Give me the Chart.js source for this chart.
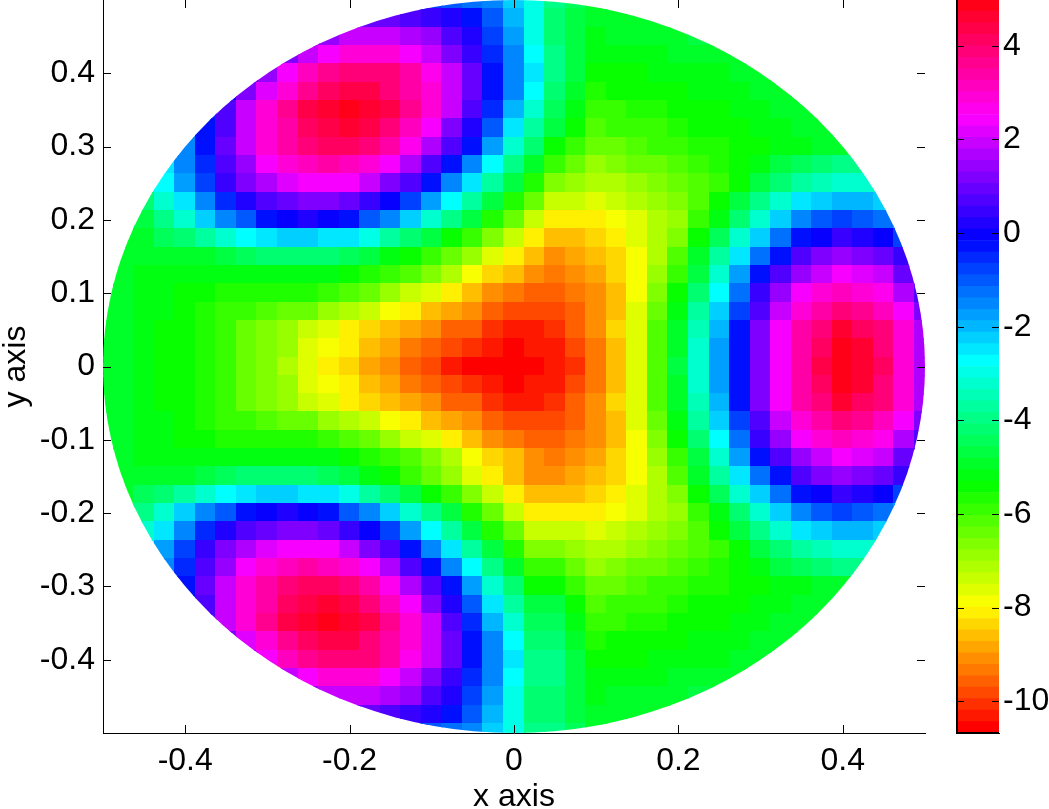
<!DOCTYPE html>
<html>
<head>
<meta charset="utf-8">
<script src="https://cdn.jsdelivr.net/npm/chart.js@4"></script>
<style>
body { margin: 0; background: #fff; overflow: hidden; }
canvas { position: absolute; top: 0; }
</style>
</head>
<body>
<canvas id="field" width="1049" height="809" style="left:0"></canvas>
<canvas id="bar" width="109" height="809" style="left:940px"></canvas>
<script>
var _ = null;
var xTicks = [-0.4, -0.2, 0, 0.2, 0.4];
var yTicks = [-0.4, -0.3, -0.2, -0.1, 0, 0.1, 0.2, 0.3, 0.4];
var colorTicks = [-10, -8, -6, -4, -2, 0, 2, 4];
var colorMin = -10.68;
var colorMax = 4.98;

var xValues = [-0.5, -0.475, -0.45, -0.425, -0.4, -0.375, -0.35, -0.325, -0.3, -0.275, -0.25, -0.225, -0.2, -0.175, -0.15, -0.125, -0.1, -0.075, -0.05, -0.025, 0, 0.025, 0.05, 0.075, 0.1, 0.125, 0.15, 0.175, 0.2, 0.225, 0.25, 0.275, 0.3, 0.325, 0.35, 0.375, 0.4, 0.425, 0.45, 0.475, 0.5];
var yValues = [0.5, 0.475, 0.45, 0.425, 0.4, 0.375, 0.35, 0.325, 0.3, 0.275, 0.25, 0.225, 0.2, 0.175, 0.15, 0.125, 0.1, 0.075, 0.05, 0.025, 0, -0.025, -0.05, -0.075, -0.1, -0.125, -0.15, -0.175, -0.2, -0.225, -0.25, -0.275, -0.3, -0.325, -0.35, -0.375, -0.4, -0.425, -0.45, -0.475, -0.5];

// one row per y value, top to bottom
var fieldValues = [
[_,_,_,_,_,_,_,_,_,_,_,_,_,_,_,-.6,-.8,-.9,-1.2,-1.6,-2.2,-3,-3.9,-4.5,-4.9,-4.9,_,_,_,_,_,_,_,_,_,_,_,_,_,_,_],
[_,_,_,_,_,_,_,_,_,_,_,.9,1.1,1,1,.8,.5,.1,-.4,-1.1,-2,-3,-4.1,-4.6,-5,-5,-5,-4.9,-4.9,-4.8,_,_,_,_,_,_,_,_,_,_,_],
[_,_,_,_,_,_,_,_,_,.4,.9,1.4,1.8,1.9,2,1.7,1.4,.8,.1,-.8,-1.8,-3,-4.2,-4.7,-5.1,-5,-5,-5,-4.9,-4.8,-4.8,_,_,_,_,_,_,_,_,_,_],
[_,_,_,_,_,_,_,_,.6,1.3,2,2.5,2.8,2.9,2.9,2.5,2,1.3,.5,-.5,-1.6,-2.8,-4,-4.7,-5.2,-5.2,-5.1,-5.1,-5,-5,-4.9,-4.9,-4.8,-4.8,_,_,_,_,_,_,_],
[_,_,_,_,_,_,-.8,.3,1.4,2.3,3.1,3.6,3.9,3.9,3.8,3.3,2.7,1.9,1,-.2,-1.4,-2.6,-3.9,-4.7,-5.4,-5.3,-5.3,-5.2,-5.2,-5.1,-5.1,-5,-4.9,-4.9,-4.9,_,_,_,_,_,_],
[_,_,_,_,_,-.7,0,1.1,2.1,3,3.7,4.2,4.4,4.3,4,3.4,2.8,1.9,.9,-.3,-1.6,-2.8,-4.1,-4.9,-5.6,-5.5,-5.5,-5.4,-5.3,-5.2,-5.2,-5.1,-5,-4.9,-4.9,-4.9,_,_,_,_,_],
[_,_,_,_,-1.9,-.6,.7,1.8,2.8,3.6,4.3,4.7,4.95,4.7,4.3,3.6,2.8,1.8,.8,-.5,-1.9,-3.1,-4.4,-5.2,-5.9,-5.8,-5.7,-5.6,-5.5,-5.4,-5.3,-5.2,-5.1,-5,-4.9,-4.9,-4.8,_,_,_,_],
[_,_,_,-2,-1.6,-.4,.8,1.9,2.9,3.5,4.2,4.4,4.6,4.3,3.9,3.1,2.3,1.3,.2,-1.1,-2.5,-3.6,-4.8,-5.5,-6.2,-6,-6,-5.8,-5.7,-5.5,-5.4,-5.3,-5.2,-5.1,-5,-4.9,-4.8,-4.8,_,_,_],
[_,_,_,-2.2,-1.4,-.2,1,2,2.9,3.5,4,4.1,4.2,3.8,3.4,2.6,1.7,.7,-.4,-1.8,-3.1,-4.2,-5.3,-5.9,-6.5,-6.3,-6.2,-6,-5.9,-5.7,-5.6,-5.5,-5.4,-5.2,-5.1,-5,-4.9,-4.8,-4.7,_,_],
[_,_,-3,-2.4,-1.6,-.5,.7,1.5,2.3,2.8,3.2,3.3,3.2,2.8,2.3,1.6,.7,-.3,-1.5,-2.7,-3.9,-5,-6,-6.4,-6.9,-6.7,-6.5,-6.3,-6.1,-5.9,-5.7,-5.4,-5.1,-4.7,-4.4,-4.2,-4,-4,-4.1,_,_],
[_,_,-3.5,-2.7,-1.8,-.7,.4,1.1,1.7,2.2,2.5,2.4,2.3,1.8,1.3,.6,-.2,-1.4,-2.6,-3.7,-4.7,-5.7,-6.6,-6.9,-7.2,-7.1,-6.9,-6.7,-6.4,-6.2,-5.95,-5.4,-4.8,-4.2,-3.7,-3.4,-3.2,-3.3,-3.5,_,_],
[_,_,-4.1,-3.3,-2.4,-1.5,-.5,.1,.7,1,1.3,1.2,1,.5,-.1,-.8,-1.7,-2.7,-3.7,-4.6,-5.6,-6.5,-7.3,-7.4,-7.6,-7.4,-7.2,-7,-6.6,-6.1,-5.5,-4.7,-4,-3.2,-2.6,-2.2,-2,-2.1,-2.3,-2.9,_],
[_,-5,-4.8,-4,-3.1,-2.3,-1.5,-.9,-.3,-.1,.1,-.1,-.3,-.9,-1.5,-2.3,-3.2,-4,-4.8,-5.6,-6.5,-7.3,-8,-8,-8,-7.8,-7.5,-7.2,-6.9,-6,-5.1,-4.1,-3.1,-2.3,-1.5,-1.1,-.7,-.9,-1.2,-1.8,_],
[-4.9,-5,-4.9,-4.5,-4.2,-3.7,-3.2,-2.8,-2.5,-2.3,-2.2,-2.4,-2.6,-3,-3.6,-4.2,-4.8,-5.4,-5.9,-6.6,-7.3,-8,-8.5,-8.5,-8.4,-8.1,-7.7,-7.2,-6.6,-5.5,-4.5,-3.3,-2.2,-1.3,-.4,0,.4,.2,-.1,-.7,-1.2],
[-4.9,-5,-5,-5,-5,-4.9,-4.6,-4.4,-4.2,-4.1,-4.1,-4.3,-4.5,-4.8,-5.1,-5.4,-5.8,-6.3,-7,-7.6,-8.1,-8.6,-9,-8.9,-8.7,-8.3,-7.9,-7.1,-6.2,-5,-3.8,-2.5,-1.2,-.2,.8,1.1,1.4,1.2,1,.4,-.2],
[-4.9,-5,-5.1,-5.1,-5.2,-5.2,-5.2,-5.2,-5.1,-5.1,-5.1,-5.2,-5.4,-5.6,-5.9,-6.2,-6.6,-7.2,-7.8,-8.3,-8.7,-9,-9.3,-9.2,-8.9,-8.4,-7.8,-6.9,-5.8,-4.6,-3.3,-1.8,-.4,.6,1.5,2,2.3,2.1,1.8,1,.3],
[-4.9,-5,-5.1,-5.2,-5.4,-5.5,-5.6,-5.6,-5.6,-5.6,-5.7,-5.9,-6.2,-6.5,-6.9,-7.3,-7.7,-8.2,-8.6,-9,-9.3,-9.5,-9.6,-9.4,-9.1,-8.5,-7.8,-6.7,-5.5,-4.2,-2.8,-1.2,.4,1.4,2.3,2.8,3.2,3,2.6,1.7,.8],
[-4.9,-5,-5.1,-5.2,-5.4,-5.6,-5.8,-6,-6.1,-6.3,-6.5,-6.8,-7.1,-7.4,-7.8,-8.1,-8.5,-8.9,-9.2,-9.5,-9.8,-9.9,-9.9,-9.6,-9.2,-8.5,-7.7,-6.5,-5.2,-3.8,-2.3,-.8,.8,1.9,2.9,3.4,3.9,3.6,3.2,2.3,1.3],
[-4.9,-5,-5.2,-5.3,-5.5,-5.7,-5.9,-6.3,-6.6,-7,-7.4,-7.7,-8,-8.3,-8.6,-8.9,-9.2,-9.5,-9.7,-10,-10.2,-10.2,-10.1,-9.7,-9.2,-8.4,-7.5,-6.2,-4.9,-3.4,-1.9,-.3,1.2,2.4,3.4,4,4.5,4.2,3.8,2.8,1.7],
[-4.9,-5,-5.2,-5.3,-5.5,-5.7,-6,-6.3,-6.6,-7,-7.5,-7.9,-8.2,-8.6,-8.9,-9.3,-9.6,-9.9,-10.1,-10.3,-10.5,-10.4,-10.3,-9.9,-9.3,-8.5,-7.5,-6.2,-4.9,-3.3,-1.8,-.2,1.3,2.5,3.5,4.2,4.8,4.5,4,2.9,1.7],
[-4.9,-5,-5.2,-5.3,-5.5,-5.7,-6,-6.3,-6.7,-7.1,-7.5,-8,-8.4,-8.8,-9.2,-9.6,-9.9,-10.2,-10.5,-10.6,-10.7,-10.6,-10.4,-10,-9.4,-8.5,-7.5,-6.2,-4.8,-3.2,-1.7,-.2,1.3,2.5,3.5,4.3,4.9,4.7,4.2,3,1.7],
[-4.9,-5,-5.2,-5.3,-5.5,-5.7,-6,-6.3,-6.6,-7,-7.5,-7.9,-8.2,-8.6,-8.9,-9.3,-9.6,-9.9,-10.1,-10.3,-10.5,-10.4,-10.3,-9.9,-9.3,-8.5,-7.5,-6.2,-4.9,-3.3,-1.8,-.2,1.3,2.5,3.5,4.2,4.8,4.5,4,2.9,1.7],
[-4.9,-5,-5.2,-5.3,-5.5,-5.7,-5.9,-6.3,-6.6,-7,-7.4,-7.7,-8,-8.3,-8.6,-8.9,-9.2,-9.5,-9.7,-10,-10.2,-10.2,-10.1,-9.7,-9.2,-8.4,-7.5,-6.2,-4.9,-3.4,-1.9,-.3,1.2,2.4,3.4,4,4.5,4.2,3.8,2.8,1.7],
[-4.9,-5,-5.1,-5.2,-5.4,-5.6,-5.8,-6,-6.1,-6.3,-6.5,-6.8,-7.1,-7.4,-7.8,-8.1,-8.5,-8.9,-9.2,-9.5,-9.8,-9.9,-9.9,-9.6,-9.2,-8.5,-7.7,-6.5,-5.2,-3.8,-2.3,-.8,.8,1.9,2.9,3.4,3.9,3.6,3.2,2.3,1.3],
[-4.9,-5,-5.1,-5.2,-5.4,-5.5,-5.6,-5.6,-5.6,-5.6,-5.7,-5.9,-6.2,-6.5,-6.9,-7.3,-7.7,-8.2,-8.6,-9,-9.3,-9.5,-9.6,-9.4,-9.1,-8.5,-7.8,-6.7,-5.5,-4.2,-2.8,-1.2,.4,1.4,2.3,2.8,3.2,3,2.6,1.7,.8],
[-4.9,-5,-5.1,-5.1,-5.2,-5.2,-5.2,-5.2,-5.1,-5.1,-5.1,-5.2,-5.4,-5.6,-5.9,-6.2,-6.6,-7.2,-7.8,-8.3,-8.7,-9,-9.3,-9.2,-8.9,-8.4,-7.8,-6.9,-5.8,-4.6,-3.3,-1.8,-.4,.6,1.5,2,2.3,2.1,1.8,1,.3],
[-5,-5,-5,-5,-4.9,-4.6,-4.4,-4.2,-4.1,-4.1,-4.3,-4.5,-4.8,-5.1,-5.4,-5.8,-6.3,-7,-7.6,-8.1,-8.6,-9,-9,-8.9,-8.7,-8.3,-7.9,-7.1,-6.2,-5,-3.8,-2.5,-1.2,-.2,.8,1.1,1.4,1.2,1,.4,-.2],
[-5,-4.9,-4.5,-4.2,-3.7,-3.2,-2.8,-2.5,-2.3,-2.2,-2.4,-2.6,-3,-3.6,-4.2,-4.8,-5.4,-5.9,-6.6,-7.3,-8,-8.5,-8.5,-8.5,-8.4,-8.1,-7.7,-7.2,-6.6,-5.5,-4.5,-3.3,-2.2,-1.3,-.4,0,.4,.2,-.1,-.7,-1.2],
[-5,-4.8,-4,-3.1,-2.3,-1.5,-.9,-.3,-.1,.1,-.1,-.3,-.9,-1.5,-2.3,-3.2,-4,-4.8,-5.6,-6.5,-7.3,-8,-8,-8,-8,-7.8,-7.5,-7.2,-6.9,-6,-5.1,-4.1,-3.1,-2.3,-1.5,-1.1,-.7,-.9,-1.2,-1.8,_],
[_,-4.1,-3.3,-2.4,-1.5,-.5,.1,.7,1,1.3,1.2,1,.5,-.1,-.8,-1.7,-2.7,-3.7,-4.6,-5.6,-6.5,-7.3,-7.3,-7.4,-7.6,-7.4,-7.2,-7,-6.6,-6.1,-5.5,-4.7,-4,-3.2,-2.6,-2.2,-2,-2.1,-2.3,-2.9,_],
[_,-3.5,-2.7,-1.8,-.7,.4,1.1,1.7,2.2,2.5,2.4,2.3,1.8,1.3,.6,-.2,-1.4,-2.6,-3.7,-4.7,-5.7,-6.6,-6.6,-6.9,-7.2,-7.1,-6.9,-6.7,-6.4,-6.2,-5.95,-5.4,-4.8,-4.2,-3.7,-3.4,-3.2,-3.3,-3.5,_,_],
[_,-3,-2.4,-1.6,-.5,.7,1.5,2.3,2.8,3.2,3.3,3.2,2.8,2.3,1.6,.7,-.3,-1.5,-2.7,-3.9,-5,-6,-6,-6.4,-6.9,-6.7,-6.5,-6.3,-6.1,-5.9,-5.7,-5.4,-5.1,-4.7,-4.4,-4.2,-4,-4,-4.1,_,_],
[_,_,-2.2,-1.4,-.2,1,2,2.9,3.5,4,4.1,4.2,3.8,3.4,2.6,1.7,.7,-.4,-1.8,-3.1,-4.2,-5.3,-5.3,-5.9,-6.5,-6.3,-6.2,-6,-5.9,-5.7,-5.6,-5.5,-5.4,-5.2,-5.1,-5,-4.9,-4.8,-4.7,_,_],
[_,_,-2,-1.6,-.4,.8,1.9,2.9,3.5,4.2,4.4,4.6,4.3,3.9,3.1,2.3,1.3,.2,-1.1,-2.5,-3.6,-4.8,-4.8,-5.5,-6.2,-6,-6,-5.8,-5.7,-5.5,-5.4,-5.3,-5.2,-5.1,-5,-4.9,-4.8,-4.8,_,_,_],
[_,_,_,-1.9,-.6,.7,1.8,2.8,3.6,4.3,4.7,4.95,4.7,4.3,3.6,2.8,1.8,.8,-.5,-1.9,-3.1,-4.4,-4.4,-5.2,-5.9,-5.8,-5.7,-5.6,-5.5,-5.4,-5.3,-5.2,-5.1,-5,-4.9,-4.9,-4.8,_,_,_,_],
[_,_,_,_,-.7,0,1.1,2.1,3,3.7,4.2,4.4,4.3,4,3.4,2.8,1.9,.9,-.3,-1.6,-2.8,-4.1,-4.1,-4.9,-5.6,-5.5,-5.5,-5.4,-5.3,-5.2,-5.2,-5.1,-5,-4.9,-4.9,-4.9,_,_,_,_,_],
[_,_,_,_,_,-.8,.3,1.4,2.3,3.1,3.6,3.9,3.9,3.8,3.3,2.7,1.9,1,-.2,-1.4,-2.6,-3.9,-3.9,-4.7,-5.4,-5.3,-5.3,-5.2,-5.2,-5.1,-5.1,-5,-4.9,-4.9,-4.9,_,_,_,_,_,_],
[_,_,_,_,_,_,_,.6,1.3,2,2.5,2.8,2.9,2.9,2.5,2,1.3,.5,-.5,-1.6,-2.8,-4,-4,-4.7,-5.2,-5.2,-5.1,-5.1,-5,-5,-4.9,-4.9,-4.8,-4.8,_,_,_,_,_,_,_],
[_,_,_,_,_,_,_,_,.4,.9,1.4,1.8,1.9,2,1.7,1.4,.8,.1,-.8,-1.8,-3,-4.2,-4.2,-4.7,-5.1,-5,-5,-5,-4.9,-4.8,-4.8,_,_,_,_,_,_,_,_,_,_],
[_,_,_,_,_,_,_,_,_,_,.9,1.1,1,1,.8,.5,.1,-.4,-1.1,-2,-3,-4.1,-4.1,-4.6,-5,-5,-5,-4.9,-4.9,-4.8,_,_,_,_,_,_,_,_,_,_,_],
[_,_,_,_,_,_,_,_,_,_,_,_,_,_,-.6,-.8,-.9,-1.2,-1.6,-2.2,-3,-3.9,-3.9,-4.5,-4.9,-4.9,_,_,_,_,_,_,_,_,_,_,_,_,_,_,_]
];

var tickFont = { family: '"Liberation Sans", Arial, sans-serif', size: 32 };

function bandIndex(v) {
    var i = Math.floor((v - colorMin) / (colorMax - colorMin) * 64);
    return Math.max(0, Math.min(63, i));
}
function bandColor(i) {
    return 'hsl(' + (i / 64 * 360) + ', 100%, 50%)';
}

// one small tile per colour band, used as the point image of a cell
var cellW = 22, cellH = 20;
var tiles = [];
for (var b = 0; b < 64; b++) {
    var tile = document.createElement('canvas');
    tile.width = cellW;
    tile.height = cellH;
    var tctx = tile.getContext('2d');
    tctx.fillStyle = bandColor(b);
    tctx.fillRect(0, 0, cellW, cellH);
    tiles.push(tile);
}

var cells = [];
fieldValues.forEach(function (row, r) {
    row.forEach(function (v, c) {
        if (v !== null) cells.push({ x: xValues[c], y: yValues[r], v: v });
    });
});

// inward tick marks on both sides of each axis, as the original has
function tickMarks(chart, scale, len) {
    var a = chart.chartArea, ctx = chart.ctx;
    ctx.save();
    ctx.strokeStyle = '#000';
    ctx.lineWidth = 1;
    ctx.beginPath();
    scale.ticks.forEach(function (t) {
        var p = Math.round(scale.getPixelForValue(t.value)) + 0.5;
        if (scale.axis === 'x') {
            ctx.moveTo(p, a.bottom); ctx.lineTo(p, a.bottom - len);
            ctx.moveTo(p, a.top); ctx.lineTo(p, a.top + len);
        } else {
            ctx.moveTo(a.left, p); ctx.lineTo(a.left + len, p);
            ctx.moveTo(a.right, p); ctx.lineTo(a.right - len, p);
        }
    });
    ctx.stroke();
    ctx.restore();
}

var circleClip = {
    id: 'circleClip',
    beforeDatasetDraw: function (chart) {
        var a = chart.chartArea, ctx = chart.ctx;
        ctx.save();
        ctx.beginPath();
        ctx.ellipse((a.left + a.right) / 2, (a.top + a.bottom) / 2, (a.right - a.left) / 2, (a.bottom - a.top) / 2, 0, 0, Math.PI * 2);
        ctx.clip();
    },
    afterDatasetDraw: function (chart) {
        chart.ctx.restore();
    },
    afterDraw: function (chart) {
        tickMarks(chart, chart.scales.x, 8);
        tickMarks(chart, chart.scales.y, 8);
    }
};

function noTickPadding(s) {
    s.paddingTop = 0;
    s.paddingBottom = 0;
    s.paddingLeft = 0;
    s.paddingRight = 0;
}

new Chart(document.getElementById('field'), {
    type: 'scatter',
    data: {
        datasets: [{
            data: cells,
            pointRadius: 12,
            pointStyle: function (ctx) { return tiles[bandIndex(ctx.raw.v)]; }
        }]
    },
    options: {
        responsive: false,
        animation: false,
        layout: { autoPadding: false, padding: { right: 124, top: 0, left: 0, bottom: 0 } },
        plugins: { legend: { display: false }, tooltip: { enabled: false } },
        scales: {
            x: {
                min: -0.5, max: 0.5,
                afterBuildTicks: function (s) { s.ticks = xTicks.map(function (v) { return { value: v }; }); },
                afterFit: function (s) { s.height = 76; noTickPadding(s); },
                grid: { drawOnChartArea: false, drawTicks: false },
                border: { color: '#000', width: 1 },
                ticks: { color: '#000', font: tickFont, maxRotation: 0, padding: 9, autoSkip: false, callback: function (v) { return v; } },
                title: { display: true, text: 'x axis', color: '#000', font: tickFont, padding: { top: 0, bottom: -7 } }
            },
            y: {
                min: -0.5, max: 0.5,
                afterBuildTicks: function (s) { s.ticks = yTicks.map(function (v) { return { value: v }; }); },
                afterFit: function (s) { s.width = 103; noTickPadding(s); },
                grid: { drawOnChartArea: false, drawTicks: false },
                border: { color: '#000', width: 1 },
                ticks: { color: '#000', font: tickFont, padding: 8, autoSkip: false, callback: function (v) { return v; } },
                title: { display: true, text: 'y axis', color: '#000', font: tickFont, padding: { top: -3, bottom: 0 } }
            }
        }
    },
    plugins: [circleClip]
});

var bandSets = [];
for (var k = 0; k < 64; k++) {
    bandSets.push({
        data: [[colorMin + k / 64 * (colorMax - colorMin), colorMin + (k + 1) / 64 * (colorMax - colorMin)]],
        backgroundColor: bandColor(k),
        grouped: false,
        barPercentage: 1,
        categoryPercentage: 1
    });
}

new Chart(document.getElementById('bar'), {
    type: 'bar',
    data: { labels: [''], datasets: bandSets },
    options: {
        responsive: false,
        animation: false,
        layout: { padding: { left: 17, right: 0, top: 0, bottom: 76 } },
        plugins: { legend: { display: false }, tooltip: { enabled: false } },
        scales: {
            x: {
                afterFit: function (s) { s.height = 0; noTickPadding(s); },
                grid: { display: false },
                border: { color: '#000', width: 1 },
                ticks: { display: false }
            },
            y: {
                position: 'right',
                min: colorMin, max: colorMax,
                afterBuildTicks: function (s) { s.ticks = colorTicks.map(function (v) { return { value: v }; }); },
                afterFit: function (s) { s.width = 50; noTickPadding(s); },
                grid: { drawOnChartArea: false, drawTicks: false },
                border: { display: false },
                ticks: { color: '#000', font: tickFont, padding: 4, autoSkip: false }
            }
        }
    },
    plugins: [{
        id: 'barMarks',
        afterDraw: function (chart) {
            var a = chart.chartArea, ctx = chart.ctx;
            ctx.save();
            ctx.strokeStyle = '#000';
            ctx.lineWidth = 2;
            ctx.beginPath();
            ctx.moveTo(a.left, a.top);
            ctx.lineTo(a.left, a.bottom);
            ctx.lineTo(a.right, a.bottom);
            ctx.stroke();
            ctx.restore();
            tickMarks(chart, chart.scales.y, 7);
        }
    }]
});
</script>
</body>
</html>
